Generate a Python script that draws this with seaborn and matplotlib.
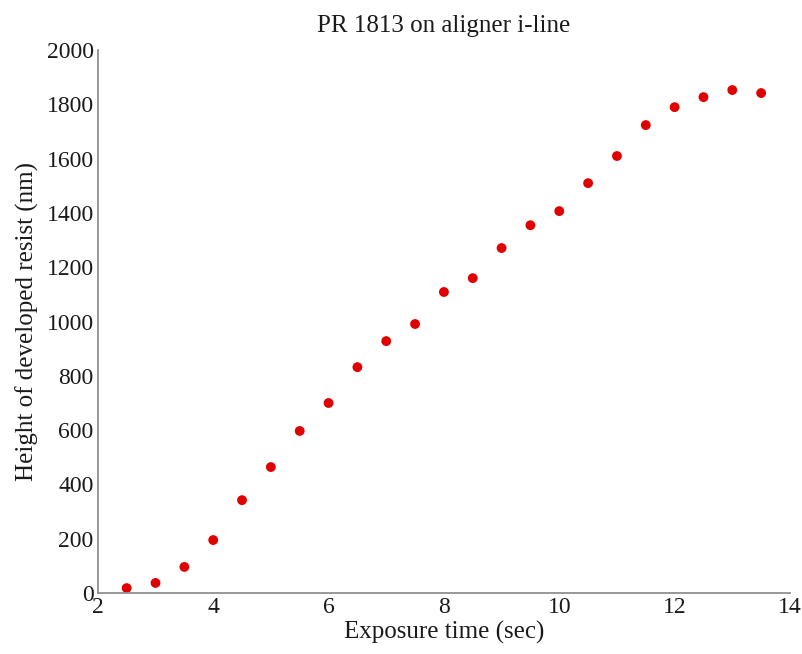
import matplotlib
matplotlib.use("Agg")
import matplotlib.pyplot as plt
import seaborn as sns
import pandas as pd

exposure = [2.5, 3, 3.5, 4, 4.5, 5, 5.5, 6, 6.5, 7, 7.5, 8, 8.5, 9, 9.5, 10,
            10.5, 11, 11.5, 12, 12.5, 13, 13.5]
height = [18, 37, 96, 195, 342, 464, 597, 700, 832, 928, 991, 1109, 1160, 1271,
          1355, 1407, 1510, 1610, 1724, 1790, 1827, 1853, 1842]
xticks = [2, 4, 6, 8, 10, 12, 14]
yticks = [0, 200, 400, 600, 800, 1000, 1200, 1400, 1600, 1800, 2000]

sns.set_style("white")
plt.rcParams['font.family'] = ['Liberation Serif', 'DejaVu Serif']

df = pd.DataFrame({"x": exposure, "y": height})
fig = plt.figure(figsize=(8.02, 6.54), dpi=100)
ax = fig.add_axes([0.122, 0.0933, 0.863, 0.830])
sns.scatterplot(data=df, x="x", y="y", ax=ax, color="#e00000", s=50,
                edgecolor="none", linewidth=0)
ax.set_xlim(2, 14)
ax.set_ylim(0, 2000)
ax.set_xticks(xticks)
ax.set_yticks(yticks)
ax.tick_params(direction="in", length=5, width=1, color="#808080",
               labelsize=17, labelcolor="#1a1a1a", pad=3)
for s in ["top", "right"]:
    ax.spines[s].set_visible(False)
for s in ["left", "bottom"]:
    ax.spines[s].set_color("#909090")
    ax.spines[s].set_linewidth(1.3)
ax.set_xlabel("Exposure time (sec)", fontsize=18, color="#1a1a1a", labelpad=2)
ax.set_ylabel("Height of developed resist (nm)", fontsize=18, color="#1a1a1a", labelpad=5)
ax.set_title("PR 1813 on aligner i-line", fontsize=18, color="#1a1a1a", pad=13)
fig.savefig("out.png", dpi=100)
